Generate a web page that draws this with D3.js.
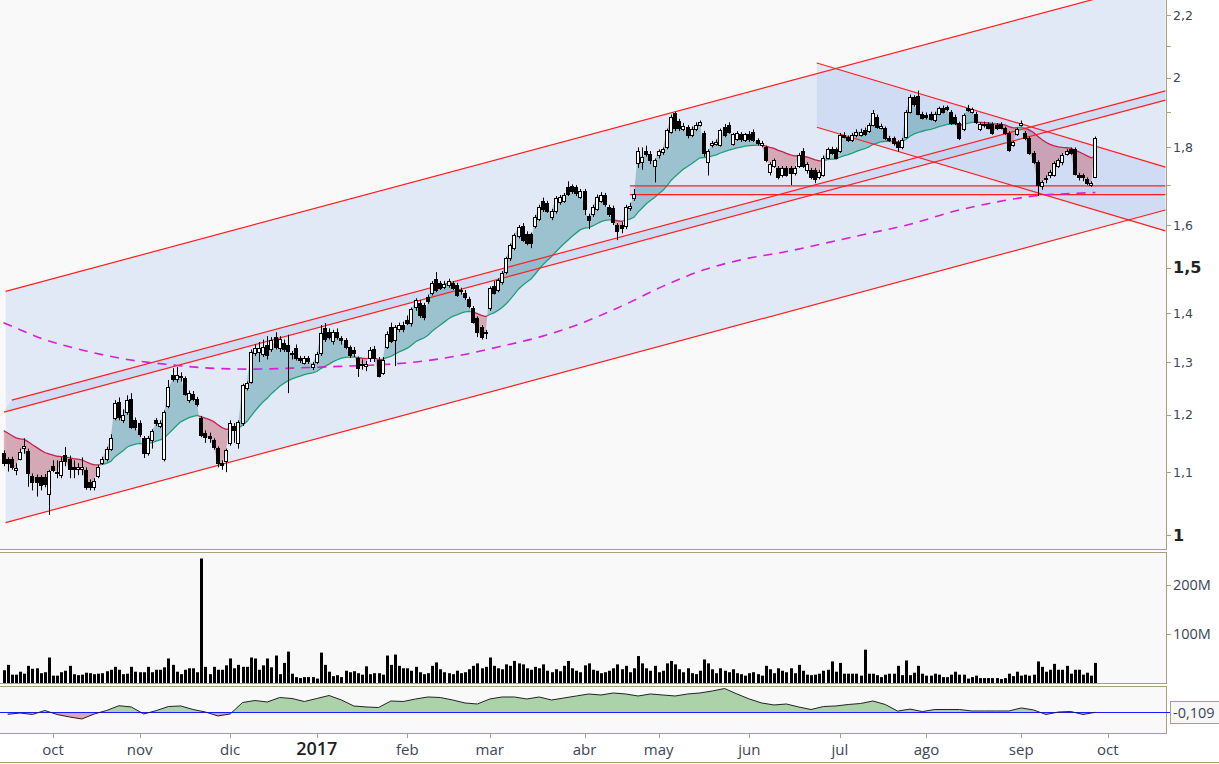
<!DOCTYPE html>
<html>
<head>
<meta charset="utf-8">
<script src="https://cdn.jsdelivr.net/npm/d3@7"></script>
<style>
  body { margin: 0; background: #fff; }
  svg { display: block; font-family: "Open Sans", sans-serif; }
</style>
</head>
<body>
<script>
// ---- data ----
const holidays = ['2016-12-26', '2017-04-14', '2017-04-17', '2017-05-01'];
const monthLabels = ['oct', 'nov', 'dic', '2017', 'feb', 'mar', 'abr', 'may', 'jun', 'jul', 'ago', 'sep', 'oct'];

const open = [
  1.133,1.122,1.123,1.104,1.123,1.141,1.136,1.094,1.092,1.092,
  1.092,1.064,1.110,1.098,1.095,1.129,1.123,1.109,1.105,1.106,
  1.104,1.084,1.075,1.094,1.115,1.122,1.140,1.195,1.224,1.190,
  1.205,1.230,1.190,1.186,1.159,1.132,1.155,1.190,1.180,1.123,
  1.216,1.274,1.266,1.272,1.269,1.228,1.239,1.229,1.194,1.168,
  1.162,1.155,1.141,1.116,1.118,1.149,1.179,1.149,1.185,1.249,
  1.262,1.317,1.320,1.316,1.334,1.326,1.350,1.327,1.338,1.334,
  1.317,1.327,1.307,1.299,1.307,1.291,1.300,1.317,1.368,1.361,
  1.343,1.361,1.349,1.344,1.329,1.323,1.307,1.297,1.293,1.307,
  1.325,1.303,1.279,1.330,1.371,1.344,1.366,1.376,1.385,1.379,
  1.413,1.421,1.418,1.435,1.443,1.474,1.465,1.457,1.460,1.465,
  1.461,1.450,1.444,1.430,1.410,1.389,1.370,1.360,1.411,1.458,
  1.450,1.468,1.491,1.522,1.545,1.573,1.598,1.578,1.578,1.598,
  1.615,1.660,1.655,1.620,1.634,1.656,1.660,1.694,1.697,1.694,
  1.670,1.685,1.622,1.627,1.640,1.660,1.675,1.645,1.643,1.600,
  1.600,1.598,1.643,1.667,1.758,1.760,1.790,1.783,1.749,1.779,
  1.787,1.800,1.844,1.896,1.874,1.850,1.858,1.835,1.852,1.863,
  1.840,1.762,1.807,1.810,1.807,1.858,1.863,1.810,1.823,1.836,
  1.820,1.838,1.843,1.820,1.806,1.800,1.734,1.749,1.745,1.727,
  1.745,1.745,1.731,1.750,1.790,1.740,1.740,1.740,1.722,1.727,
  1.772,1.797,1.797,1.790,1.835,1.828,1.820,1.833,1.835,1.848,
  1.845,1.862,1.886,1.855,1.853,1.826,1.826,1.816,1.800,1.830,
  1.900,1.942,1.946,1.895,1.892,1.895,1.877,1.895,1.912,1.913,
  1.900,1.886,1.868,1.850,1.912,1.900,1.895,1.850,1.866,1.865,
  1.865,1.862,1.865,1.853,1.840,1.808,1.837,1.862,1.840,1.826,
  1.785,1.760,1.697,1.718,1.726,1.727,1.750,1.760,1.783,1.795,
  1.796,1.727,1.727,1.716,1.700,1.722
];
const high = [
  1.137,1.125,1.126,1.115,1.140,1.158,1.140,1.098,1.096,1.095,
  1.097,1.104,1.120,1.120,1.125,1.143,1.128,1.120,1.115,1.125,
  1.108,1.088,1.090,1.112,1.126,1.143,1.165,1.227,1.232,1.210,
  1.236,1.240,1.195,1.190,1.162,1.162,1.174,1.194,1.190,1.208,
  1.265,1.288,1.290,1.280,1.272,1.245,1.244,1.233,1.198,1.172,
  1.168,1.158,1.144,1.120,1.140,1.190,1.185,1.190,1.258,1.262,
  1.325,1.335,1.340,1.345,1.352,1.350,1.360,1.352,1.345,1.355,
  1.322,1.335,1.312,1.312,1.312,1.300,1.320,1.375,1.379,1.368,
  1.365,1.368,1.352,1.348,1.333,1.330,1.311,1.305,1.302,1.330,
  1.332,1.310,1.310,1.362,1.380,1.375,1.380,1.382,1.395,1.412,
  1.432,1.428,1.422,1.440,1.470,1.490,1.470,1.470,1.475,1.470,
  1.466,1.455,1.450,1.435,1.415,1.393,1.375,1.365,1.458,1.470,
  1.476,1.492,1.525,1.556,1.580,1.600,1.605,1.585,1.582,1.625,
  1.650,1.668,1.660,1.640,1.672,1.675,1.680,1.710,1.702,1.700,
  1.690,1.690,1.628,1.650,1.676,1.682,1.680,1.650,1.648,1.605,
  1.608,1.650,1.655,1.690,1.800,1.800,1.805,1.790,1.770,1.795,
  1.800,1.852,1.892,1.900,1.880,1.868,1.862,1.858,1.870,1.875,
  1.846,1.795,1.818,1.822,1.852,1.865,1.870,1.840,1.845,1.842,
  1.840,1.845,1.850,1.825,1.818,1.805,1.760,1.770,1.750,1.750,
  1.750,1.750,1.750,1.785,1.798,1.760,1.745,1.745,1.740,1.778,
  1.800,1.802,1.800,1.840,1.842,1.833,1.840,1.850,1.852,1.855,
  1.868,1.905,1.892,1.866,1.858,1.832,1.830,1.820,1.826,1.905,
  1.950,1.948,1.962,1.900,1.898,1.900,1.900,1.915,1.918,1.918,
  1.905,1.892,1.872,1.895,1.920,1.912,1.900,1.870,1.872,1.870,
  1.870,1.868,1.870,1.858,1.845,1.818,1.855,1.875,1.845,1.830,
  1.790,1.765,1.712,1.725,1.740,1.762,1.770,1.785,1.795,1.800,
  1.800,1.732,1.730,1.720,1.710,1.830
];
const low = [
  1.110,1.101,1.104,1.095,1.120,1.131,1.076,1.070,1.060,1.070,
  1.075,1.031,1.100,1.090,1.090,1.110,1.090,1.090,1.095,1.095,
  1.071,1.070,1.070,1.090,1.112,1.118,1.136,1.190,1.190,1.185,
  1.200,1.175,1.172,1.160,1.124,1.128,1.140,1.180,1.176,1.118,
  1.212,1.262,1.260,1.262,1.235,1.222,1.225,1.215,1.160,1.150,
  1.150,1.138,1.108,1.104,1.100,1.145,1.150,1.140,1.180,1.245,
  1.258,1.312,1.300,1.310,1.305,1.320,1.325,1.320,1.320,1.240,
  1.305,1.303,1.298,1.295,1.296,1.284,1.296,1.312,1.340,1.345,
  1.335,1.345,1.335,1.325,1.308,1.310,1.271,1.285,1.282,1.300,
  1.300,1.270,1.275,1.326,1.338,1.292,1.360,1.360,1.375,1.372,
  1.405,1.390,1.385,1.420,1.438,1.445,1.450,1.452,1.455,1.450,
  1.435,1.440,1.428,1.410,1.378,1.350,1.345,1.346,1.405,1.440,
  1.445,1.462,1.485,1.515,1.540,1.568,1.560,1.552,1.545,1.592,
  1.610,1.632,1.630,1.612,1.628,1.650,1.655,1.672,1.678,1.672,
  1.665,1.625,1.590,1.620,1.635,1.655,1.645,1.620,1.600,1.564,
  1.580,1.590,1.635,1.660,1.745,1.740,1.775,1.755,1.707,1.770,
  1.780,1.795,1.838,1.845,1.845,1.845,1.825,1.828,1.845,1.858,
  1.775,1.725,1.800,1.805,1.802,1.828,1.838,1.805,1.818,1.815,
  1.815,1.815,1.815,1.805,1.800,1.760,1.725,1.745,1.715,1.720,
  1.722,1.700,1.725,1.745,1.745,1.730,1.715,1.705,1.715,1.722,
  1.768,1.780,1.768,1.785,1.825,1.815,1.815,1.828,1.830,1.832,
  1.840,1.858,1.852,1.850,1.820,1.815,1.805,1.788,1.795,1.825,
  1.895,1.915,1.890,1.878,1.878,1.875,1.870,1.890,1.895,1.902,
  1.862,1.862,1.820,1.845,1.900,1.895,1.865,1.845,1.855,1.850,
  1.835,1.848,1.850,1.835,1.788,1.802,1.832,1.858,1.820,1.780,
  1.755,1.672,1.688,1.705,1.718,1.722,1.745,1.752,1.778,1.780,
  1.725,1.712,1.710,1.700,1.695,1.718
];
const close = [
  1.116,1.115,1.108,1.107,1.135,1.144,1.098,1.084,1.084,1.079,
  1.081,1.102,1.104,1.101,1.119,1.118,1.106,1.106,1.109,1.109,
  1.076,1.076,1.086,1.109,1.123,1.140,1.158,1.222,1.196,1.200,
  1.227,1.178,1.178,1.166,1.132,1.159,1.170,1.185,1.185,1.205,
  1.251,1.266,1.274,1.270,1.239,1.240,1.229,1.220,1.164,1.161,
  1.158,1.143,1.115,1.112,1.137,1.185,1.173,1.187,1.255,1.259,
  1.320,1.327,1.327,1.330,1.313,1.344,1.330,1.346,1.326,1.322,
  1.316,1.307,1.304,1.307,1.302,1.297,1.316,1.358,1.347,1.351,
  1.361,1.351,1.345,1.330,1.314,1.317,1.289,1.294,1.297,1.323,
  1.307,1.273,1.303,1.356,1.343,1.370,1.375,1.366,1.380,1.408,
  1.428,1.396,1.392,1.425,1.465,1.450,1.455,1.463,1.469,1.455,
  1.440,1.447,1.434,1.416,1.382,1.361,1.350,1.358,1.454,1.444,
  1.472,1.487,1.522,1.553,1.577,1.596,1.564,1.558,1.556,1.620,
  1.645,1.640,1.635,1.634,1.666,1.670,1.675,1.676,1.684,1.680,
  1.685,1.640,1.612,1.645,1.670,1.675,1.651,1.628,1.608,1.586,
  1.592,1.645,1.647,1.676,1.790,1.773,1.783,1.765,1.765,1.790,
  1.795,1.848,1.886,1.853,1.853,1.860,1.833,1.852,1.862,1.870,
  1.784,1.790,1.813,1.816,1.848,1.833,1.843,1.836,1.840,1.822,
  1.836,1.822,1.820,1.812,1.812,1.765,1.755,1.765,1.722,1.745,
  1.727,1.731,1.745,1.780,1.751,1.756,1.722,1.716,1.735,1.772,
  1.797,1.785,1.772,1.835,1.830,1.820,1.835,1.843,1.843,1.838,
  1.863,1.896,1.858,1.860,1.826,1.820,1.812,1.800,1.820,1.900,
  1.942,1.922,1.895,1.883,1.885,1.880,1.895,1.910,1.900,1.908,
  1.868,1.868,1.826,1.890,1.905,1.907,1.872,1.866,1.862,1.855,
  1.840,1.853,1.855,1.840,1.794,1.814,1.850,1.868,1.826,1.785,
  1.762,1.700,1.708,1.716,1.735,1.757,1.765,1.780,1.790,1.785,
  1.730,1.722,1.720,1.705,1.705,1.826
];
// volume in millions
const volume = [
  26,37,17,17,23,19,35,29,30,20,
  22,52,15,15,22,25,35,18,16,17,
  21,20,18,19,20,24,27,33,27,18,
  19,33,23,22,22,33,22,27,27,32,
  50,37,23,18,27,30,30,22,254,33,
  18,33,27,27,36,50,30,37,33,33,
  52,50,27,36,50,32,56,18,41,64,
  19,12,10,12,12,12,9,62,37,23,
  14,16,12,25,22,24,20,17,34,18,
  20,20,17,56,37,58,35,30,30,25,
  33,22,18,20,35,42,28,22,20,18,
  25,20,22,28,35,40,30,33,52,35,
  30,28,38,35,45,40,38,30,27,33,
  30,38,25,22,28,24,35,45,30,25,
  22,36,40,27,25,20,22,25,30,38,
  28,35,22,30,55,40,30,25,35,22,
  25,40,45,38,28,22,30,20,18,25,
  48,40,28,20,30,25,22,28,20,18,
  15,20,22,18,15,35,28,20,30,25,
  22,30,20,37,25,17,16,17,19,25,
  27,44,23,41,19,19,19,19,15,68,
  19,19,16,12,17,19,19,35,16,46,
  16,21,35,19,15,15,19,17,12,12,
  17,23,17,17,9,12,15,10,10,10,
  10,10,8,10,19,14,23,15,17,15,
  17,44,33,23,27,39,27,27,35,19,
  27,27,17,21,15,41
];
// long moving average (dashed magenta): [bar index, price]
const slowMa = [
  [0,1.380],[10,1.345],[20,1.322],[30,1.305],[40,1.295],[50,1.288],[60,1.286],
  [70,1.288],[80,1.291],[90,1.294],[100,1.300],[110,1.312],[120,1.330],[130,1.350],
  [140,1.378],[150,1.415],[160,1.458],[170,1.495],[180,1.520],[190,1.537],[200,1.558],
  [210,1.580],[220,1.602],[230,1.632],[240,1.655],[250,1.672],[260,1.679],[265,1.681]
];
// oscillator, one value every 3 bars starting at bar 1
const oscStart = 1, oscStep = 3;
const osc = [
  -0.160,-0.127,-0.164,-0.064,-0.164,-0.226,-0.276,-0.151,-0.064,0.056,
  0.024,-0.151,-0.069,0.036,0.049,-0.039,-0.102,-0.200,-0.151,0.136,
  0.186,0.149,0.261,0.236,0.161,0.236,0.311,0.199,0.049,0.024,
  0.011,0.174,0.161,0.224,0.274,0.261,0.199,0.124,0.099,0.224,
  0.274,0.274,0.224,0.274,0.199,0.249,0.299,0.349,0.324,0.374,
  0.349,0.299,0.349,0.324,0.299,0.349,0.374,0.424,0.486,0.349,
  0.224,0.124,0.074,0.099,0.024,-0.039,0.036,0.049,0.086,0.111,
  0.174,0.086,-0.079,-0.029,-0.091,-0.039,-0.039,-0.039,-0.076,-0.076,
  -0.076,-0.076,0.000,-0.051,-0.164,-0.102,-0.089,-0.164,-0.109
];
// trend lines: [bar index, price] end points
const outerUpper = [[0.5, 1.447], [282, 2.320]];
const outerLower = [[0.5, 1.019], [282, 1.637]];
const midUpper = [[2, 1.227], [282, 1.961]];
const midLower = [[0.1, 1.205], [282, 1.934]];
const downUpper = [[197.4, 2.046], [282, 1.747]];
const downLower = [[197.4, 1.856], [282, 1.586]];
const supportLevels = [1.698, 1.6755];
const supportFrom = 152;
const maLen = 26, maSeed = 1.176;

const priceTicks = [1, 1.1, 1.2, 1.3, 1.4, 1.5, 1.6, 1.8, 2, 2.2];
const priceMinor = [1.7, 1.9, 2.1];
const majorTicks = [1, 1.5];
const volTicks = [100, 200];

// ---- layout ----
const W = 1219, H = 764;
const R = 1166;
const mainB = 549, volT = 552, volB = 683, oscT = 686, oscB = 733;
const olive = '#a5a27c', txt = '#3a4656';

const loc = d3.formatLocale({decimal: ',', thousands: '.', grouping: [3], currency: ['', ''], minus: '-'});
const fmtPrice = loc.format('.2~f');
const fmtOsc = loc.format('.3f');

// trading calendar
const fmtDay = d3.timeFormat('%Y-%m-%d');
const days = d3.timeDay.range(new Date(2016, 8, 15), new Date(2017, 9, 10))
  .filter((d) => d.getDay() !== 0 && d.getDay() !== 6 && !holidays.includes(fmtDay(d)));
const monthStarts = [];
days.forEach((d, i) => {
  if (i > 0 && d.getMonth() !== days[i - 1].getMonth()) monthStarts.push(i);
});

const N = close.length;
const x = d3.scaleLinear().domain([0, N - 1]).range([3.6, 3.6 + 4.12 * (N - 1)]);
const y = d3.scaleLog().domain([0.9805, 2.251]).range([548, 0]);
const yVol = d3.scaleLinear().domain([0, 267.3]).range([volB, volT]);
const yOsc = d3.scaleLinear().domain([-0.627, 0.549]).range([oscB, oscT]);
const cx = (i) => Math.round(x(i));

// moving average of the close
let e = maSeed;
const ma = close.map((c) => (e = e + (c - e) * 2 / (maLen + 1)));

const svg = d3.select('body').append('svg').attr('width', W).attr('height', H);
const defs = svg.append('defs');

// backgrounds and frames
svg.append('rect').attr('width', W).attr('height', H).attr('fill', '#fff');
svg.append('rect').attr('x', 0).attr('y', 0).attr('width', R).attr('height', mainB).attr('fill', '#f9f9f9');
svg.append('rect').attr('x', -1).attr('y', volT + 0.5).attr('width', R + 1.5).attr('height', volB - volT)
  .attr('fill', '#f9f9f9').attr('stroke', olive);
svg.append('rect').attr('x', -1).attr('y', oscT + 0.5).attr('width', R + 1.5).attr('height', oscB - oscT)
  .attr('fill', '#f9f9f9').attr('stroke', olive);

defs.append('clipPath').attr('id', 'clipMain').append('rect')
  .attr('x', 0).attr('y', 0).attr('width', R).attr('height', mainB);

const main = svg.append('g').attr('clip-path', 'url(#clipMain)');

// channel fills
const pt = (d) => [x(d[0]), y(d[1])];
const band = (a, b) => 'M' + a.map(pt).join('L') + 'L' + b.slice().reverse().map(pt).join('L') + 'Z';
const chanFill = 'rgba(170,192,240,0.3)';
main.append('path').attr('d', band(outerUpper, outerLower)).attr('fill', chanFill);
main.append('path').attr('d', band(midUpper, midLower)).attr('fill', chanFill);
main.append('path').attr('d', band(downUpper, downLower)).attr('fill', chanFill);
main.append('path')
  .attr('d', band([[supportFrom, supportLevels[0]], [282, supportLevels[0]]], [[supportFrom, supportLevels[1]], [282, supportLevels[1]]]))
  .attr('fill', chanFill);

// close vs moving average fill
const closeAbove = d3.area().x((d, i) => x(i)).y0(0).y1((d) => y(d));
const closeBelow = d3.area().x((d, i) => x(i)).y0(mainB).y1((d) => y(d));
defs.append('clipPath').attr('id', 'aboveClose').append('path').attr('d', closeAbove(close));
defs.append('clipPath').attr('id', 'belowClose').append('path').attr('d', closeBelow(close));

main.append('path').attr('clip-path', 'url(#belowClose)')
  .attr('d', d3.area().x((d, i) => x(i)).y0((d) => y(d)).y1(0)(ma))
  .attr('fill', 'rgba(62,140,152,0.42)');
main.append('path').attr('clip-path', 'url(#aboveClose)')
  .attr('d', d3.area().x((d, i) => x(i)).y0((d) => y(d)).y1(mainB)(ma))
  .attr('fill', 'rgba(196,72,88,0.4)');
const maLine = d3.line().x((d, i) => x(i)).y((d) => y(d));
main.append('path').attr('clip-path', 'url(#belowClose)').attr('d', maLine(ma))
  .attr('fill', 'none').attr('stroke', '#1f9f78').attr('stroke-width', 1.3);
main.append('path').attr('clip-path', 'url(#aboveClose)').attr('d', maLine(ma))
  .attr('fill', 'none').attr('stroke', '#c81e4e').attr('stroke-width', 1.3);

// red trend lines
const seg = d3.line().x((d) => x(d[0])).y((d) => y(d[1]));
[outerUpper, outerLower, midUpper, midLower, downUpper, downLower].forEach((l) => {
  main.append('path').attr('d', seg(l)).attr('fill', 'none').attr('stroke', '#ff1e1e').attr('stroke-width', 1.2);
});
supportLevels.forEach((p) => {
  main.append('path').attr('d', seg([[supportFrom, p], [282, p]]))
    .attr('fill', 'none').attr('stroke', '#ff1e1e').attr('stroke-width', 1.3);
});

// slow moving average, dashed
main.append('path')
  .attr('d', d3.line().curve(d3.curveMonotoneX).x((d) => x(d[0])).y((d) => y(d[1]))(slowMa))
  .attr('fill', 'none').attr('stroke', '#d61fd6').attr('stroke-width', 1.6).attr('stroke-dasharray', '9,7');

// candles
const candles = main.append('g').selectAll('g').data(close).join('g');
candles.append('line')
  .attr('x1', (d, i) => cx(i) + 0.5).attr('x2', (d, i) => cx(i) + 0.5)
  .attr('y1', (d, i) => y(high[i])).attr('y2', (d, i) => y(low[i]))
  .attr('stroke', '#000').attr('stroke-width', 1);
candles.append('rect')
  .attr('x', (d, i) => cx(i) - 1.5).attr('width', 3)
  .attr('y', (d, i) => Math.round(y(Math.max(open[i], d))) + 0.5)
  .attr('height', (d, i) => Math.max(1, Math.round(y(Math.min(open[i], d))) - Math.round(y(Math.max(open[i], d)))))
  .attr('fill', (d, i) => (d >= open[i] ? '#fff' : '#000'))
  .attr('stroke', '#000').attr('stroke-width', 1);

// price axis
svg.append('line').attr('x1', R + 0.5).attr('x2', R + 0.5).attr('y1', 0).attr('y2', mainB)
  .attr('stroke', olive);
svg.append('line').attr('x1', 0).attr('x2', R + 1).attr('y1', mainB + 0.5).attr('y2', mainB + 0.5)
  .attr('stroke', olive);
const pAxis = svg.append('g');
pAxis.selectAll('line').data(priceTicks.concat(priceMinor)).join('line')
  .attr('x1', R).attr('x2', R + 5)
  .attr('y1', (d) => Math.round(y(d)) + 0.5).attr('y2', (d) => Math.round(y(d)) + 0.5)
  .attr('stroke', olive);
pAxis.selectAll('text').data(priceTicks).join('text')
  .attr('x', R + 7).attr('y', (d) => y(d))
  .attr('dy', '0.36em')
  .attr('font-family', '"DejaVu Sans", sans-serif')
  .attr('font-size', (d) => (majorTicks.includes(d) ? 16 : 12.5))
  .attr('font-weight', (d) => (majorTicks.includes(d) ? 'bold' : 'normal'))
  .attr('fill', (d) => (majorTicks.includes(d) ? '#222' : txt))
  .text((d) => fmtPrice(d));

// volume
svg.append('g').selectAll('rect').data(volume).join('rect')
  .attr('x', (d, i) => cx(i) - 1).attr('width', 3)
  .attr('y', (d) => yVol(d)).attr('height', (d) => yVol(0) - yVol(d))
  .attr('fill', '#000');
const vAxis = svg.append('g');
vAxis.selectAll('line').data(volTicks).join('line')
  .attr('x1', R).attr('x2', R + 5)
  .attr('y1', (d) => Math.round(yVol(d)) + 0.5).attr('y2', (d) => Math.round(yVol(d)) + 0.5)
  .attr('stroke', olive);
vAxis.selectAll('text').data(volTicks).join('text')
  .attr('x', R + 7).attr('y', (d) => yVol(d)).attr('dy', '0.36em')
  .attr('font-size', 14.5).attr('fill', txt)
  .text((d) => d + 'M');

// oscillator
const oscPts = osc.map((v, k) => [oscStart + k * oscStep, v]);
const oscBase = osc[osc.length - 1];
defs.append('clipPath').attr('id', 'oscUp').append('rect')
  .attr('x', 0).attr('y', oscT).attr('width', R).attr('height', yOsc(oscBase) - oscT);
defs.append('clipPath').attr('id', 'oscDown').append('rect')
  .attr('x', 0).attr('y', yOsc(oscBase)).attr('width', R).attr('height', oscB - yOsc(oscBase));
const oscArea = d3.area().x((d) => x(d[0])).y0(yOsc(oscBase)).y1((d) => yOsc(d[1]));
svg.append('path').attr('clip-path', 'url(#oscUp)').attr('d', oscArea(oscPts)).attr('fill', '#acd2aa');
svg.append('path').attr('clip-path', 'url(#oscDown)').attr('d', oscArea(oscPts)).attr('fill', '#d9a7b7');
svg.append('line').attr('x1', 0).attr('x2', R + 4)
  .attr('y1', Math.round(yOsc(oscBase)) + 0.5).attr('y2', Math.round(yOsc(oscBase)) + 0.5)
  .attr('stroke', '#1a1aff').attr('stroke-width', 1);
svg.append('path')
  .attr('d', d3.line().x((d) => x(d[0])).y((d) => yOsc(d[1]))(oscPts))
  .attr('fill', 'none').attr('stroke', '#222').attr('stroke-width', 1);
svg.append('rect').attr('x', R + 4.5).attr('y', Math.round(yOsc(oscBase)) - 10.5)
  .attr('width', 52).attr('height', 22).attr('fill', '#f7f7f7').attr('stroke', olive);
svg.append('text').attr('x', R + 7).attr('y', yOsc(oscBase)).attr('dy', '0.38em')
  .attr('font-size', 14.5).attr('fill', txt).text(fmtOsc(oscBase));

// time axis
svg.append('line').attr('x1', 0).attr('x2', W).attr('y1', H - 1.5).attr('y2', H - 1.5).attr('stroke', olive);
const tAxis = svg.append('g');
tAxis.selectAll('line').data(monthStarts).join('line')
  .attr('x1', (d) => cx(d) + 0.5).attr('x2', (d) => cx(d) + 0.5)
  .attr('y1', oscB + 1).attr('y2', oscB + 5).attr('stroke', olive);
tAxis.selectAll('text').data(monthStarts).join('text')
  .attr('x', (d) => x(d)).attr('y', 755)
  .attr('text-anchor', 'middle')
  .attr('font-size', (d, k) => (monthLabels[k] === '2017' ? 18 : 15))
  .attr('font-weight', (d, k) => (monthLabels[k] === '2017' ? 600 : 'normal'))
  .attr('fill', (d, k) => (monthLabels[k] === '2017' ? '#1e1e1e' : txt))
  .text((d, k) => monthLabels[k]);
</script>
</body>
</html>
